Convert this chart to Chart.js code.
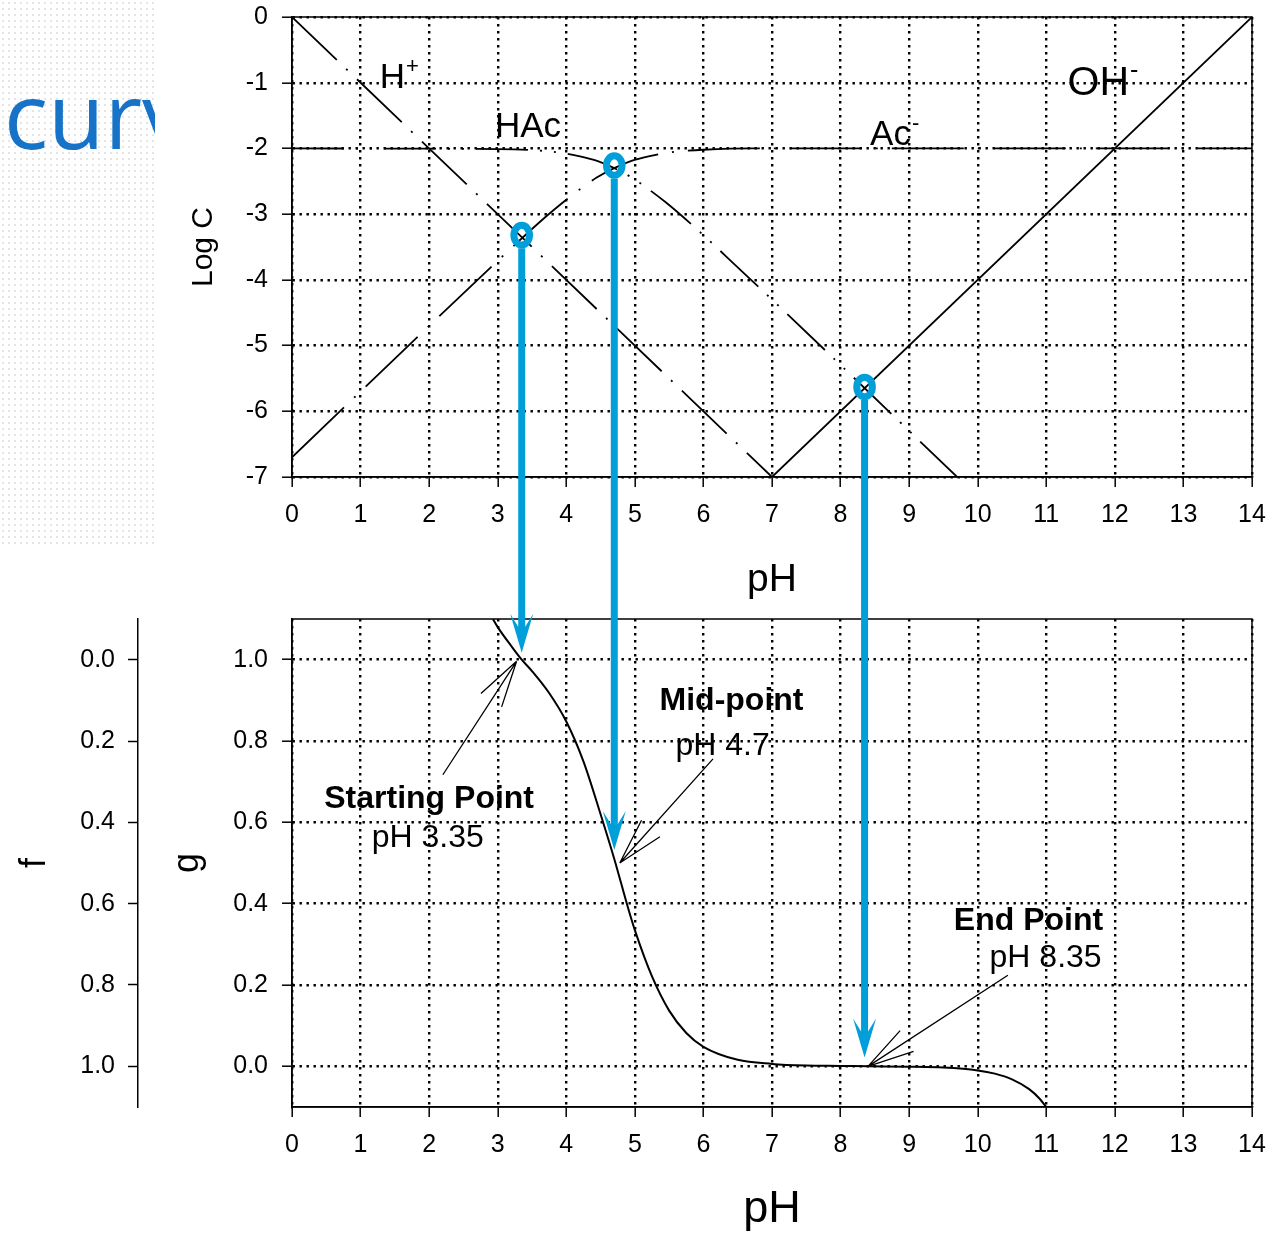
<!DOCTYPE html>
<html>
<head>
<meta charset="utf-8">
<script src="https://cdn.jsdelivr.net/npm/chart.js@4.4.0/dist/chart.umd.min.js"></script>
<style>
  html, body { margin: 0; padding: 0; background: #fff; }
  #wrap { position: relative; width: 1278px; height: 1234px; overflow: hidden; }
  #slide {
    position: absolute; left: 0; top: 0; width: 155px; height: 545px; overflow: hidden;
    background-color: #fff;
    background-image: radial-gradient(#e4e4e4 0.9px, transparent 1.3px);
    background-size: 6px 6px;
  }
  #slide span {
    position: absolute; left: 4px; top: 68px; white-space: nowrap;
    font-family: "Open Sans", sans-serif; font-size: 92px; line-height: 92px; color: #1673c7;
  }
  #topChart { position: absolute; left: 0; top: 0; }
  #botChart { position: absolute; left: 0; top: 600px; }
</style>
</head>
<body>
<div id="wrap">
  <div id="slide"><span>curv</span></div>
  <canvas id="topChart" width="1278" height="600"></canvas>
  <canvas id="botChart" width="1278" height="634"></canvas>
</div>
<script>
// ---- data ----
var pHTicks = [0, 1, 2, 3, 4, 5, 6, 7, 8, 9, 10, 11, 12, 13, 14];
var logTicks = [-7, -6, -5, -4, -3, -2, -1, 0];
var gTicks = [0, 0.2, 0.4, 0.6, 0.8, 1.0];

// top chart: log C vs pH
var hPlusPH = [0, 7];
var hPlusLog = [0, -7];
var ohPH = [7, 14];
var ohLog = [-7, 0];
var hacPH = [0, 3.0, 3.7, 4.0, 4.2, 4.45, 4.7, 4.95, 5.2, 5.45, 5.7, 6.0, 6.5, 7.0, 9.7];
var hacLog = [-2.0, -2.01, -2.04, -2.08, -2.12, -2.19, -2.30, -2.44, -2.62, -2.82, -3.04, -3.32, -3.81, -4.30, -7.0];
var acPH = [0, 2.0, 3.0, 3.7, 4.0, 4.2, 4.45, 4.7, 4.95, 5.2, 5.45, 5.7, 6.0, 6.7, 14];
var acLog = [-6.7, -4.70, -3.71, -3.04, -2.78, -2.62, -2.44, -2.30, -2.19, -2.12, -2.07, -2.04, -2.02, -2.0, -2.0];

// bottom chart: g vs pH
var gPH = [2.93, 3.0, 3.2, 3.35, 3.5, 3.75, 4.0, 4.25, 4.5, 4.7, 4.9, 5.0, 5.25, 5.5, 5.75, 6.0, 6.5, 7.0, 7.5, 8.0, 8.4, 9.0, 9.5, 10.0, 10.25, 10.5, 10.75, 10.9, 11.0];
var gVal = [1.10, 1.08, 1.033, 1.0, 0.972, 0.918, 0.848, 0.75, 0.62, 0.51, 0.39, 0.335, 0.221, 0.137, 0.082, 0.048, 0.016, 0.006, 0.002, 0.001, 0.0, -0.001, -0.003, -0.010, -0.018, -0.032, -0.056, -0.079, -0.100];

// the three marked points (blue arrows)
var markPH = [3.35, 4.7, 8.35];
var markLogC = [-3.32, -2.26, -5.63];
var markTipG = [1.017, 0.532, 0.022];

// species labels on top chart
var speciesText = ['H', 'HAc', 'Ac', 'OH'];
var speciesSup = ['+', '', '-', '-'];

// annotations on bottom chart
var noteTitle = ['Starting Point', 'Mid-point', 'End Point'];
var noteSub = ['pH 3.35', 'pH 4.7', 'pH 8.35'];

var BLUE = '#009fda';
var FONT = '"Liberation Sans", Arial, Helvetica, sans-serif';
Chart.defaults.font.family = FONT;
Chart.defaults.color = '#000';

function pairs(xs, ys) {
  return xs.map(function (x, i) { return {x: x, y: ys[i]}; });
}

var gridOpts = {color: '#000', lineWidth: 2.4, tickLength: 10, tickWidth: 1.5, tickColor: '#000'};
var borderOpts = {display: true, color: '#000', width: 1.5, dash: [2.4, 4.6]};

function xAxis(h, titleSize, titlePad) {
  return {
    type: 'linear', min: 0, max: 14,
    afterBuildTicks: function (s) { s.ticks = pHTicks.map(function (v) { return {value: v}; }); },
    afterFit: function (s) { s.height = h; s.paddingLeft = 0; s.paddingRight = 0; },
    ticks: {font: {size: 25}, padding: 13, maxRotation: 0, autoSkip: false,
      callback: function (v) { return String(v); }},
    grid: gridOpts,
    border: borderOpts,
    title: {display: true, text: 'pH', font: {size: titleSize}, padding: {top: 0, bottom: titlePad}}
  };
}

var framePlugin = {
  id: 'frame',
  afterDatasetsDraw: function (chart) {
    var a = chart.chartArea, ctx = chart.ctx;
    ctx.save();
    ctx.strokeStyle = '#000';
    ctx.lineWidth = 1.5;
    ctx.strokeRect(a.left, a.top, a.right - a.left, a.bottom - a.top);
    ctx.restore();
  }
};

// species labels + blue rings and upper part of the arrows
var topMarks = {
  id: 'topMarks',
  afterDraw: function (chart) {
    var ctx = chart.ctx, xs = chart.scales.x, ys = chart.scales.y;
    var spot = [[1.28, -1.08, 35], [2.96, -1.83, 35], [8.43, -1.95, 35], [11.31, -1.19, 41]];
    ctx.save();
    ctx.fillStyle = '#000';
    ctx.textAlign = 'left';
    ctx.textBaseline = 'alphabetic';
    speciesText.forEach(function (t, i) {
      var px = xs.getPixelForValue(spot[i][0]);
      var py = ys.getPixelForValue(spot[i][1]);
      var size = spot[i][2];
      ctx.font = size + 'px ' + FONT;
      ctx.fillText(t, px, py);
      if (speciesSup[i]) {
        var w = ctx.measureText(t).width;
        ctx.font = Math.round(size * 0.62) + 'px ' + FONT;
        ctx.fillText(speciesSup[i], px + w + 1, py - size * 0.42);
      }
    });
    ctx.strokeStyle = BLUE;
    for (var i = 0; i < markPH.length; i++) {
      var x = xs.getPixelForValue(markPH[i]);
      var y = ys.getPixelForValue(markLogC[i]);
      ctx.lineWidth = 7;
      ctx.beginPath();
      ctx.moveTo(x, y + 13);
      ctx.lineTo(x, chart.height);
      ctx.stroke();
      ctx.beginPath();
      ctx.ellipse(x, y, 7.8, 9.8, 0, 0, Math.PI * 2);
      ctx.stroke();
    }
    ctx.restore();
  }
};

// lower part of the blue arrows, text notes and black pointers
var botMarks = {
  id: 'botMarks',
  afterDraw: function (chart) {
    var ctx = chart.ctx, xs = chart.scales.x, ys = chart.scales.y;
    ctx.save();
    ctx.fillStyle = BLUE;
    ctx.strokeStyle = BLUE;
    for (var i = 0; i < markPH.length; i++) {
      var x = xs.getPixelForValue(markPH[i]);
      var tip = ys.getPixelForValue(markTipG[i]);
      ctx.lineWidth = 7;
      ctx.beginPath();
      ctx.moveTo(x, 0);
      ctx.lineTo(x, tip - 24);
      ctx.stroke();
      ctx.beginPath();
      ctx.moveTo(x, tip);
      ctx.lineTo(x + 11.5, tip - 39);
      ctx.lineTo(x + 3.5, tip - 26);
      ctx.lineTo(x - 3.5, tip - 26);
      ctx.lineTo(x - 11.5, tip - 39);
      ctx.closePath();
      ctx.fill();
    }

    // text notes
    var pos = [[2.00, 0.635, 1.98, 0.539], [6.41, 0.877, 6.28, 0.766], [10.74, 0.335, 10.99, 0.244]];
    ctx.fillStyle = '#000';
    ctx.textAlign = 'center';
    ctx.textBaseline = 'alphabetic';
    noteTitle.forEach(function (t, i) {
      ctx.font = 'bold 32px ' + FONT;
      ctx.fillText(t, xs.getPixelForValue(pos[i][0]), ys.getPixelForValue(pos[i][1]));
      ctx.font = '32px ' + FONT;
      ctx.fillText(noteSub[i], xs.getPixelForValue(pos[i][2]), ys.getPixelForValue(pos[i][3]));
    });

    // black pointers (tail -> tip) with open heads
    var tails = [[2.20, 0.717], [6.14, 0.756], [10.44, 0.224]];
    var tips = [[3.275, 0.996], [4.78, 0.50], [8.40, 0.0]];
    ctx.strokeStyle = '#000';
    ctx.lineWidth = 1.3;
    for (var j = 0; j < tips.length; j++) {
      var ax = xs.getPixelForValue(tails[j][0]), ay = ys.getPixelForValue(tails[j][1]);
      var bx = xs.getPixelForValue(tips[j][0]), by = ys.getPixelForValue(tips[j][1]);
      var ang = Math.atan2(ay - by, ax - bx);
      ctx.beginPath();
      ctx.moveTo(ax, ay);
      ctx.lineTo(bx, by);
      [-0.26, 0.26].forEach(function (d) {
        ctx.moveTo(bx, by);
        ctx.lineTo(bx + 48 * Math.cos(ang + d), by + 48 * Math.sin(ang + d));
      });
      ctx.stroke();
    }
    ctx.restore();
  }
};

var lineStyle = {borderColor: '#000', borderWidth: 1.8, pointRadius: 0, fill: false};

var topChart = new Chart(document.getElementById('topChart'), {
  type: 'line',
  data: {
    datasets: [
      Object.assign({label: 'H+', data: pairs(hPlusPH, hPlusLog), borderDash: [62, 13, 2, 13]}, lineStyle),
      Object.assign({label: 'HAc', data: pairs(hacPH, hacLog), borderDash: [52, 12, 2, 12, 2, 12],
        cubicInterpolationMode: 'monotone'}, lineStyle),
      Object.assign({label: 'Ac-', data: pairs(acPH, acLog), borderDash: [72, 14, 2, 14],
        cubicInterpolationMode: 'monotone'}, lineStyle),
      Object.assign({label: 'OH-', data: pairs(ohPH, ohLog)}, lineStyle)
    ]
  },
  options: {
    responsive: false, animation: false,
    layout: {padding: {top: 17, right: 26, left: 0, bottom: 0}},
    plugins: {legend: {display: false}, tooltip: {enabled: false}},
    scales: {
      x: xAxis(123, 39, -4),
      y: {
        type: 'linear', min: -7, max: 0,
        afterBuildTicks: function (s) { s.ticks = logTicks.map(function (v) { return {value: v}; }); },
        afterFit: function (s) { s.width = 292; s.paddingTop = 0; s.paddingBottom = 0; },
        ticks: {font: {size: 25}, padding: 14, callback: function (v) { return String(v); }},
        grid: gridOpts,
        border: borderOpts,
        title: {display: true, text: 'Log C', font: {size: 30}, padding: {top: 186, bottom: 0}}
      }
    }
  },
  plugins: [framePlugin, topMarks]
});

var botChart = new Chart(document.getElementById('botChart'), {
  type: 'line',
  data: {
    datasets: [
      Object.assign({label: 'g', data: pairs(gPH, gVal), cubicInterpolationMode: 'monotone'}, lineStyle, {borderWidth: 2})
    ]
  },
  options: {
    responsive: false, animation: false,
    layout: {padding: {top: 19, right: 26, left: 0, bottom: 0}},
    plugins: {legend: {display: false}, tooltip: {enabled: false}},
    scales: {
      x: xAxis(127, 45, -3),
      y: {
        type: 'linear', min: -0.1, max: 1.1, position: 'left', weight: 0,
        afterBuildTicks: function (s) { s.ticks = gTicks.map(function (v) { return {value: v}; }); },
        afterFit: function (s) { s.width = 154; s.paddingTop = 0; s.paddingBottom = 0; },
        ticks: {font: {size: 25}, padding: 14, callback: function (v) { return v.toFixed(1); }},
        grid: gridOpts,
        border: borderOpts,
        title: {display: true, text: 'g', font: {size: 36}, padding: {top: 28, bottom: 0}}
      },
      f: {
        type: 'linear', min: -0.1, max: 1.1, reverse: true, position: 'left', weight: 1,
        afterBuildTicks: function (s) { s.ticks = gTicks.map(function (v) { return {value: v}; }); },
        afterFit: function (s) { s.width = 138; s.paddingTop = 0; s.paddingBottom = 0; },
        ticks: {font: {size: 25}, padding: 13, callback: function (v) { return v.toFixed(1); }},
        grid: {drawOnChartArea: false, color: '#000', tickLength: 10, tickWidth: 1.5, tickColor: '#000'},
        border: {display: true, color: '#000', width: 1.5},
        title: {display: true, text: 'f', font: {size: 36}, padding: {top: 13, bottom: 0}}
      }
    }
  },
  plugins: [framePlugin, botMarks]
});
</script>
</body>
</html>
